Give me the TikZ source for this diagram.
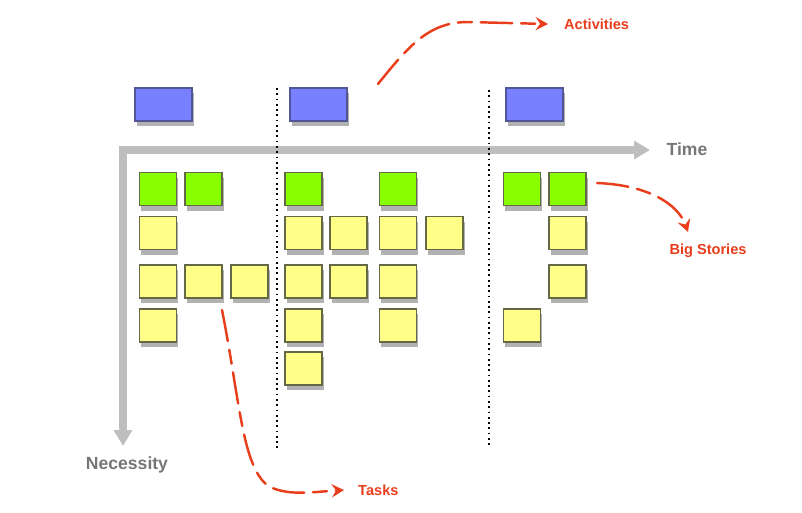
\documentclass[tikz,border=0pt]{standalone}
\usepackage{fontspec}
\setmainfont{Liberation Sans}
\usetikzlibrary{arrows.meta,shadows}

\definecolor{actblue}{RGB}{120,128,255}
\definecolor{actline}{RGB}{80,86,150}
\definecolor{stgreen}{RGB}{136,255,0}
\definecolor{tkyellow}{RGB}{255,255,136}
\definecolor{cardline}{RGB}{100,104,70}
\definecolor{notered}{RGB}{232,62,28}
\definecolor{axisgray}{RGB}{190,190,190}
\definecolor{labelgray}{RGB}{118,118,118}

\tikzset{
  card/.style={draw=cardline, line width=0.8pt, inner sep=0pt,
    drop shadow={shadow xshift=1pt, shadow yshift=-3pt, opacity=0.3, fill=black}},
  actcard/.style={card, draw=actline, fill=actblue, minimum width=1.14cm, minimum height=0.66cm},
  bigcard/.style={card, fill=stgreen, minimum width=0.74cm, minimum height=0.66cm},
  taskcard/.style={card, fill=tkyellow, minimum width=0.74cm, minimum height=0.66cm},
  note/.style={text=notered, font=\bfseries\fontsize{8.3}{10}\selectfont},
  notearrow/.style={draw=notered, line width=1.4pt, line cap=round,
    dash pattern=on 18pt off 5pt on 8pt off 5pt, -{Stealth[length=7pt,width=7.5pt,inset=2.5pt]}},
  axislabel/.style={text=labelgray, font=\bfseries\fontsize{10}{12}\selectfont}
}

\begin{document}
\begin{tikzpicture}[x=0.02cm, y=-0.02cm]
    \useasboundingbox (0,0) rectangle (802,512);

    % 时间轴与必要性轴
    \coordinate (axT) at (650,150);
    \coordinate (axO) at (123,150);
    \coordinate (axN) at (123,446);
    \draw[axisgray, line width=4.5pt, line join=miter,
          {Triangle[width=10pt,length=9pt]}-{Triangle[width=10pt,length=9pt]}] (axT) -- (axO) -- (axN);
    \node[axislabel] (time) at (687,149) {Time};
    \node[axislabel] (necessity) at (127,465) {Necessity};

    % 分隔虚线
    \coordinate (sepAtop) at (277,88);
    \coordinate (sepAbot) at (277,448);
    \coordinate (sepBtop) at (489,90);
    \coordinate (sepBbot) at (489,448);
    \draw[line width=1pt, dotted] (sepAtop) -- (sepAbot);
    \draw[line width=1pt, dotted] (sepBtop) -- (sepBbot);

    % 活动
    \node[actcard] (act1) at (163.5,104.5) {};
    \node[actcard] (act2) at (318.5,104.5) {};
    \node[actcard] (act3) at (534.5,104.5) {};

    % 大故事
    \foreach \x [count=\i] in {158,203.5,303.5,398,522,567.5}
        \node[bigcard] (big\i) at (\x,189) {};

    % 任务
    \foreach \x [count=\i] in {158,303.5,348.5,398,444.5,567.5}
        \node[taskcard] (rowa\i) at (\x,233) {};
    \foreach \x [count=\i] in {158,203.5,249.5,303.5,348.5,398,567.5}
        \node[taskcard] (rowb\i) at (\x,281.5) {};
    \foreach \x [count=\i] in {158,303.5,398,522}
        \node[taskcard] (rowc\i) at (\x,325.5) {};
    \node[taskcard] (rowd1) at (303.5,368.5) {};

    % 标注
    \node[note, anchor=west] (activities) at (558,24) {Activities};
    \node[note] (bigstories) at (708,251) {Big Stories};
    \node[note, anchor=west] (tasks) at (352,490) {Tasks};

    \coordinate (actstart) at (378,84);
    \coordinate (bigstart) at (597,183);
    \coordinate (taskstart) at (222,310);

    \draw[notearrow] (actstart) .. controls (410,44) and (430,22) .. (468,22) -- ([xshift=-0.2cm]activities.west);
    \draw[notearrow] (bigstart) .. controls (648,185) and (678,204) .. ([xshift=-0.4cm,yshift=0.12cm]bigstories.north);
    \draw[notearrow] (taskstart) .. controls (240,400) and (242,470) .. (270,487)
        .. controls (290,496) and (312,492) .. ([xshift=-0.16cm]tasks.west);
\end{tikzpicture}
\end{document}
